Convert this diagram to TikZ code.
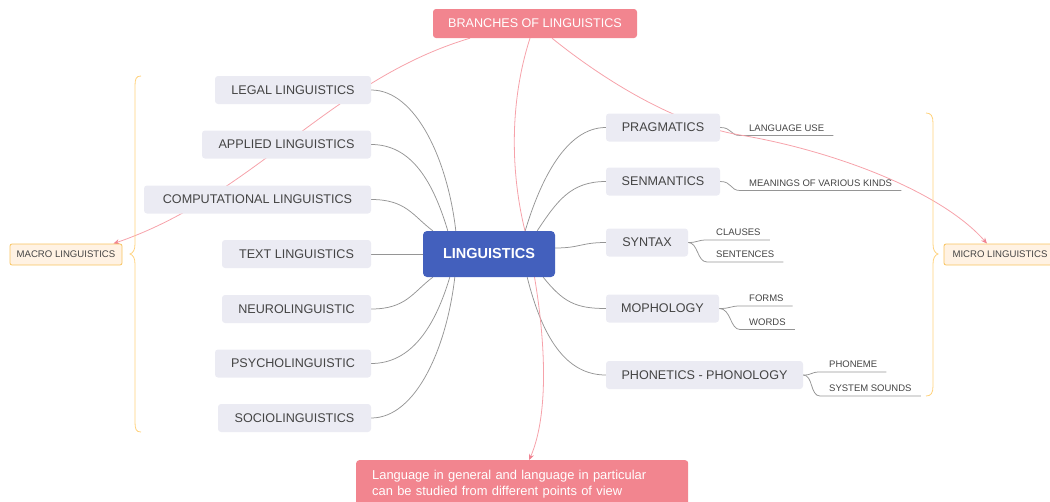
\documentclass[tikz,border=0pt]{standalone}
\usepackage{fontspec}
\setmainfont{Liberation Sans}
\usetikzlibrary{arrows.meta,backgrounds}
\definecolor{pinkbox}{HTML}{F2858F}
\definecolor{pinkline}{HTML}{F6A2AA}
\definecolor{pinkarrow}{HTML}{F08492}
\definecolor{rootblue}{HTML}{4360BD}
\definecolor{topicfill}{HTML}{EBEBF3}
\definecolor{conngray}{HTML}{959595}
\definecolor{txt}{HTML}{444444}
\definecolor{orangeB}{HTML}{F8C460}
\definecolor{orangeF}{HTML}{FFF2E3}
\definecolor{braceC}{HTML}{FFD27D}
\begin{document}
\begin{tikzpicture}[x=1pt,y=-1pt,
  topic/.style={fill=topicfill, rounded corners=3pt, minimum width=#1, minimum height=28pt, inner sep=0pt, text=txt, font=\fontsize{12.6}{15}\selectfont},
  leaf/.style={anchor=south west, inner xsep=9pt, inner ysep=4pt, text=txt, font=\fontsize{9.5}{11}\selectfont},
  conn/.style={draw=conngray, line width=0.75pt},
  rel/.style={draw=pinkline, line width=0.8pt},
  relarrow/.style={rel, -{Stealth[length=6pt,width=5pt,color=pinkarrow]}},
  summary/.style={fill=orangeF, draw=orangeB, line width=0.8pt, rounded corners=2pt, minimum height=21pt, minimum width=112pt, inner sep=0pt, text=txt, font=\fontsize{9.6}{11}\selectfont},
  bracestyle/.style={draw=braceC, line width=0.8pt},
  pinknode/.style={fill=pinkbox, rounded corners=3pt, text=white}
]
\useasboundingbox (0,0) rectangle (1050,501);

% title and root
\node[pinknode, minimum width=204pt, minimum height=29pt, inner sep=0pt, font=\fontsize{12.6}{15}\selectfont] (branches) at (535,23.5) {BRANCHES OF LINGUISTICS};
\node[fill=rootblue, rounded corners=4pt, minimum width=132pt, minimum height=46pt, inner sep=0pt, text=white, font=\bfseries\fontsize{14.5}{17}\selectfont] (root) at (489,254) {LINGUISTICS};

% left topics
\node[topic=156pt] (legal) at (293,90) {LEGAL LINGUISTICS};
\node[topic=169pt] (applied) at (286.5,144.5) {APPLIED LINGUISTICS};
\node[topic=227pt] (comp) at (257.5,199.5) {COMPUTATIONAL LINGUISTICS};
\node[topic=149pt] (textl) at (296.5,254) {TEXT LINGUISTICS};
\node[topic=149pt] (neuro) at (296.5,309) {NEUROLINGUISTIC};
\node[topic=156pt] (psycho) at (293,363.5) {PSYCHOLINGUISTIC};
\node[topic=153pt] (socio) at (294.5,418) {SOCIOLINGUISTICS};

% right topics
\node[topic=114pt] (prag) at (663,127.5) {PRAGMATICS};
\node[topic=114pt] (sem) at (663,181.5) {SENMANTICS};
\node[topic=82pt] (syn) at (647,242.5) {SYNTAX};
\node[topic=113pt] (morph) at (662.5,308.5) {MOPHOLOGY};
\node[topic=197pt] (phon) at (704.5,375) {PHONETICS - PHONOLOGY};

% leaves
\node[leaf] (lu) at (740,135.5) {LANGUAGE USE};
\node[leaf] (mv) at (740,190.5) {MEANINGS OF VARIOUS KINDS};
\node[leaf] (cl) at (707,240) {CLAUSES};
\node[leaf] (se) at (707,262) {SENTENCES};
\node[leaf] (fo) at (740,306) {FORMS};
\node[leaf] (wo) at (740,329.5) {WORDS};
\node[leaf] (pm) at (820,372) {PHONEME};
\node[leaf] (ss) at (820,396) {SYSTEM SOUNDS};

% summaries
\node[summary] (macro) at (66,254.5) {MACRO LINGUISTICS};
\node[summary] (micro) at (1000,254.5) {MICRO LINGUISTICS};

% note
\node[pinknode, anchor=north west, align=left, text width=300pt, inner xsep=16pt, inner ysep=10pt, font=\fontsize{12.9}{16}\selectfont] (note) at (356,460) {Language in general and language in particular\\can be studied from different points of view};

\begin{scope}[on background layer]
% left connectors
\draw[conn] (legal.east) .. controls +(45,0) and +(-8,-70) .. ([xshift=33pt]root.north west);
\draw[conn] (applied.east) .. controls +(40,0) and +(-15,-50) .. ([xshift=25pt]root.north west);
\draw[conn] (comp.east) .. controls +(35,0) and +(-20,-15) .. ([xshift=10pt]root.north west);
\draw[conn] (textl.east) -- (root.west);
\draw[conn] (neuro.east) .. controls +(35,0) and +(-20,15) .. ([xshift=10pt]root.south west);
\draw[conn] (psycho.east) .. controls +(40,0) and +(-15,50) .. ([xshift=27pt]root.south west);
\draw[conn] (socio.east) .. controls +(45,0) and +(-8,70) .. ([xshift=32pt]root.south west);
% right connectors
\draw[conn] ([xshift=-30pt]root.north east) .. controls +(15,-50) and +(-40,0) .. (prag.west);
\draw[conn] ([xshift=-18pt]root.north east) .. controls +(20,-30) and +(-35,0) .. (sem.west);
\draw[conn] ([yshift=6pt]root.east) .. controls +(25,0) and +(-25,0) .. (syn.west);
\draw[conn] ([xshift=-12pt]root.south east) .. controls +(20,25) and +(-30,0) .. (morph.west);
\draw[conn] ([xshift=-28pt]root.south east) .. controls +(15,60) and +(-40,0) .. (phon.west);
% leaf connectors
\draw[conn] (prag.east) .. controls +(12,0) and +(-10,0) .. (lu.south west) -- (lu.south east);
\draw[conn] (sem.east) .. controls +(12,0) and +(-10,0) .. (mv.south west) -- (mv.south east);
\draw[conn] (syn.east) .. controls +(10,0) and +(-10,0) .. (cl.south west) -- (cl.south east);
\draw[conn] (syn.east) .. controls +(10,0) and +(-10,0) .. (se.south west) -- (se.south east);
\draw[conn] (morph.east) .. controls +(12,0) and +(-10,0) .. (fo.south west) -- (fo.south east);
\draw[conn] (morph.east) .. controls +(12,0) and +(-10,0) .. (wo.south west) -- (wo.south east);
\draw[conn] (phon.east) .. controls +(10,0) and +(-10,0) .. (pm.south west) -- (pm.south east);
\draw[conn] (phon.east) .. controls +(10,0) and +(-10,0) .. (ss.south west) -- (ss.south east);
% relations
\draw[relarrow] ([xshift=-65pt]branches.south) .. controls (330,80) and (255,195) .. ([xshift=-9pt]macro.north east);
\draw[relarrow] ([xshift=-5pt]branches.south) .. controls (510,100) and (510,170) .. (525,231) .. controls (540,292) and (555,400) .. ([xshift=7pt]note.north);
\draw[relarrow] ([xshift=17pt]branches.south) .. controls (610,85) and (680,125) .. (740,135) .. controls (830,150) and (940,190) .. ([xshift=-13pt]micro.north);
\end{scope}

% braces
\draw[bracestyle] (141,76) .. controls (136,76) and (135,79) .. (135,86) -- (135,244) .. controls (135,250) and (133,253) .. (130,254) .. controls (133,255) and (135,258) .. (135,264) -- (135,422) .. controls (135,429) and (136,432) .. (141,432);
\draw[bracestyle] (926,113) .. controls (931,113) and (933,116) .. (933,123) -- (933,244) .. controls (933,250) and (935,253) .. (938,254) .. controls (935,255) and (933,258) .. (933,264) -- (933,386) .. controls (933,393) and (931,396) .. (926,396);
\end{tikzpicture}
\end{document}
